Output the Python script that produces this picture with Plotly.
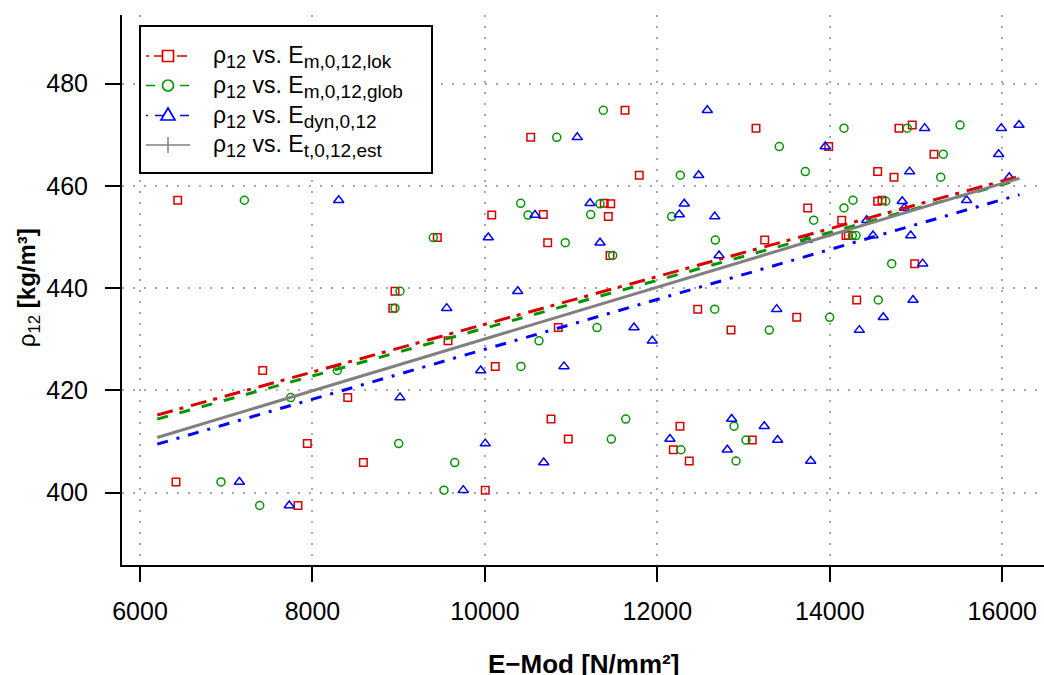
import plotly.graph_objects as go

# Density at 12 % moisture and the three stiffness measures per specimen
rho12 = [474.8, 471.9, 471.3, 471.3, 469.5, 467.7, 466.2, 462.8, 462.1, 461.7,
         457.2, 457.2, 457.0, 456.6, 456.5, 455.7, 454.3, 454.4, 454.0, 453.3,
         449.9, 450.3, 450.3, 449.4, 448.9, 446.4, 444.8, 439.4, 437.7, 436.1,
         435.9, 434.3, 432.3, 431.8, 429.7, 423.9, 424.7, 418.6, 414.4, 413.0,
         410.5, 410.3, 409.6, 408.4, 405.9, 406.2, 402.1, 400.5, 397.5]

e_m_lok = [11625, 14956, 13144, 14802, 10531, 13987, 15208, 14555, 11790, 14744,
           6437, 14605, 14555, 11384, 11459, 13743, 10079, 10677, 11431, 14138,
           9448, 14188, 14215, 13245, 10728, 11451, 14984, 8957, 14312, 8931,
           12468, 13616, 10851, 12854, 9572, 7423, 10120, 8409, 10766, 12262,
           10967, 13101, 7940, 12185, 8590, 12370, 6417, 10004, 7832]

e_m_glob = [11373, 15510, 14164, 14898, 10833, 13414, 15316, 13716, 12266, 15286,
            7210, 14269, 14648, 10415, 11335, 14164, 10500, 11227, 12166, 13813,
            9401, 14261, 14304, 12672, 10932, 11482, 14718, 9015, 14562, 8957,
            12665, 13998, 11300, 13298, 10627, 8288, 10418, 7748, 11633, 12889,
            11466, 13028, 9000, 12274, 9650, 12912, 6939, 9525, 7388]

e_dyn = [12579, 16194, 15100, 15989, 11071, 13947, 15958, 14926, 12479, 16081,
         8304, 15587, 14840, 11219, 12312, 14864, 10581, 12254, 12665, 14428,
         10039, 14501, 14938, 13735, 11335, 12715, 15077, 10380, 14965, 9557,
         13384, 14620, 11729, 14342, 11941, 9951, 10917, 9015, 12862, 13240,
         12146, 13395, 10004, 12811, 10682, 13778, 7152, 9749, 7731]

# Regression lines (end points)
fit_x = [6200, 16200]
fit_lok = [415.2, 461.9]
fit_glob = [414.4, 461.2]
fit_dyn = [409.5, 458.3]
fit_est = [410.8, 461.5]

x_ticks = [6000, 8000, 10000, 12000, 14000, 16000]
y_ticks = [400, 420, 440, 460, 480]


def sub(s, size=19):
    return "<sub><span style='font-size:%dpx'>%s</span></sub>" % (size, s)


legend_labels = [
    "ρ" + sub("12", 18) + " vs. E" + sub("m,0,12,lok"),
    "ρ" + sub("12", 18) + " vs. E" + sub("m,0,12,glob"),
    "ρ" + sub("12", 18) + " vs. E" + sub("dyn,0,12"),
    "ρ" + sub("12", 18) + " vs. E" + sub("t,0,12,est"),
]

RED = "#D80000"
GREEN = "#009400"
BLUE = "#0000FF"
GRAY = "#808080"

dash_lok = "16px,7px,4px,8px"
dash_glob = "11px,12px"
dash_dyn = "11px,9px,3px,9px"

FONT = "Liberation Sans, Arial, sans-serif"

W, H = 1044, 675
L, R, T, B = 122, 0, 15, 110
PW, PH = W - L - R, H - T - B


def px(x):
    return (x - L) / PW


def py(y):
    return (H - B - y) / PH


fig = go.Figure()

# scatter points
fig.add_trace(go.Scatter(x=e_m_lok, y=rho12, mode="markers", showlegend=False,
                         marker=dict(symbol="square-open", size=7.5, color=RED,
                                     line=dict(width=1.5, color=RED))))
fig.add_trace(go.Scatter(x=e_m_glob, y=rho12, mode="markers", showlegend=False,
                         marker=dict(symbol="circle-open", size=8, color=GREEN,
                                     line=dict(width=1.5, color=GREEN))))
fig.add_trace(go.Scatter(x=e_dyn, y=rho12, mode="markers", showlegend=False,
                         marker=dict(symbol="triangle-up-open", size=9, color=BLUE,
                                     line=dict(width=1.5, color=BLUE))))

# regression lines
fig.add_trace(go.Scatter(x=fit_x, y=fit_lok, mode="lines", showlegend=False,
                         line=dict(color=RED, width=3, dash=dash_lok)))
fig.add_trace(go.Scatter(x=fit_x, y=fit_glob, mode="lines", showlegend=False,
                         line=dict(color=GREEN, width=3, dash=dash_glob)))
fig.add_trace(go.Scatter(x=fit_x, y=fit_dyn, mode="lines", showlegend=False,
                         line=dict(color=BLUE, width=3, dash=dash_dyn)))
fig.add_trace(go.Scatter(x=fit_x, y=fit_est, mode="lines", showlegend=False,
                         line=dict(color=GRAY, width=3)))

# ---- legend box drawn with shapes and annotations ----
shapes = [dict(type="rect", xref="paper", yref="paper",
               x0=px(140), x1=px(432), y0=py(173), y1=py(26),
               line=dict(color="black", width=2), fillcolor="white", layer="above")]
annotations = []

row_y = [56, 85.5, 115.5, 145]
row_col = [RED, GREEN, BLUE, GRAY]
row_dash = ["3px,5px,10px,5px", "9px,8px", "2px,7px,9px,7px", "solid"]
sx0, sx1, mx = 146, 190, 168

for i, yy in enumerate(row_y):
    col = row_col[i]
    shapes.append(dict(type="line", xref="paper", yref="paper",
                       x0=px(sx0), x1=px(sx1), y0=py(yy), y1=py(yy),
                       line=dict(color=col, width=1.5, dash=row_dash[i]), layer="above"))
    if i == 0:
        shapes.append(dict(type="rect", xref="paper", yref="paper",
                           x0=px(mx - 5.5), x1=px(mx + 5.5), y0=py(yy + 5.5), y1=py(yy - 5.5),
                           line=dict(color=col, width=1.7), fillcolor="white", layer="above"))
    elif i == 1:
        shapes.append(dict(type="circle", xref="paper", yref="paper",
                           x0=px(mx - 5.5), x1=px(mx + 5.5), y0=py(yy + 5.5), y1=py(yy - 5.5),
                           line=dict(color=col, width=1.7), fillcolor="white", layer="above"))
    elif i == 2:
        path = "M %f,%f L %f,%f L %f,%f Z" % (
            px(mx - 7), py(yy + 4.5), px(mx + 7), py(yy + 4.5), px(mx), py(yy - 7.5))
        shapes.append(dict(type="path", xref="paper", yref="paper", path=path,
                           line=dict(color=col, width=1.7), fillcolor="white", layer="above"))
    else:
        shapes.append(dict(type="line", xref="paper", yref="paper",
                           x0=px(mx), x1=px(mx), y0=py(yy - 8), y1=py(yy + 8),
                           line=dict(color=col, width=1.5), layer="above"))
    annotations.append(dict(text=legend_labels[i], xref="paper", yref="paper",
                            x=px(211), y=py(yy + 1), xanchor="left", yanchor="middle",
                            showarrow=False,
                            font=dict(family=FONT, size=23, color="black")))

annotations += [
    dict(text="<b>E−Mod [N/mm²]</b>", xref="paper", yref="paper",
         x=0.5, y=-0.18, xanchor="center", yanchor="middle", showarrow=False,
         font=dict(family=FONT, size=26, color="black")),
    dict(text="ρ<sub>12</sub> <b>[kg/m³]</b>", xref="paper", yref="paper",
         x=-0.102, y=0.505, xanchor="center", yanchor="middle", showarrow=False,
         textangle=-90, font=dict(family=FONT, size=24, color="black")),
]

tick_font = dict(family=FONT, size=25, color="black")

fig.update_layout(
    width=W, height=H,
    margin=dict(l=L, r=R, t=T, b=B),
    paper_bgcolor="white", plot_bgcolor="white",
    showlegend=False,
    xaxis=dict(
        range=[5791, 16484], tickvals=x_ticks, ticktext=[str(v) for v in x_ticks],
        showline=True, linecolor="black", linewidth=2,
        ticks="outside", ticklen=15, tickwidth=2, tickcolor="black",
        tickfont=tick_font, ticklabelstandoff=8,
        showgrid=True, gridcolor="#A8A8A8", gridwidth=2, griddash="2px,9px",
        zeroline=False,
    ),
    yaxis=dict(
        range=[385.86, 493.43], tickvals=y_ticks, ticktext=[str(v) for v in y_ticks],
        showline=True, linecolor="black", linewidth=2,
        ticks="outside", ticklen=15, tickwidth=2, tickcolor="black",
        tickfont=tick_font, ticklabelstandoff=12,
        showgrid=True, gridcolor="#A8A8A8", gridwidth=2, griddash="2px,9px",
        zeroline=False,
    ),
    shapes=shapes,
    annotations=annotations,
)

fig.write_html("out.html")
